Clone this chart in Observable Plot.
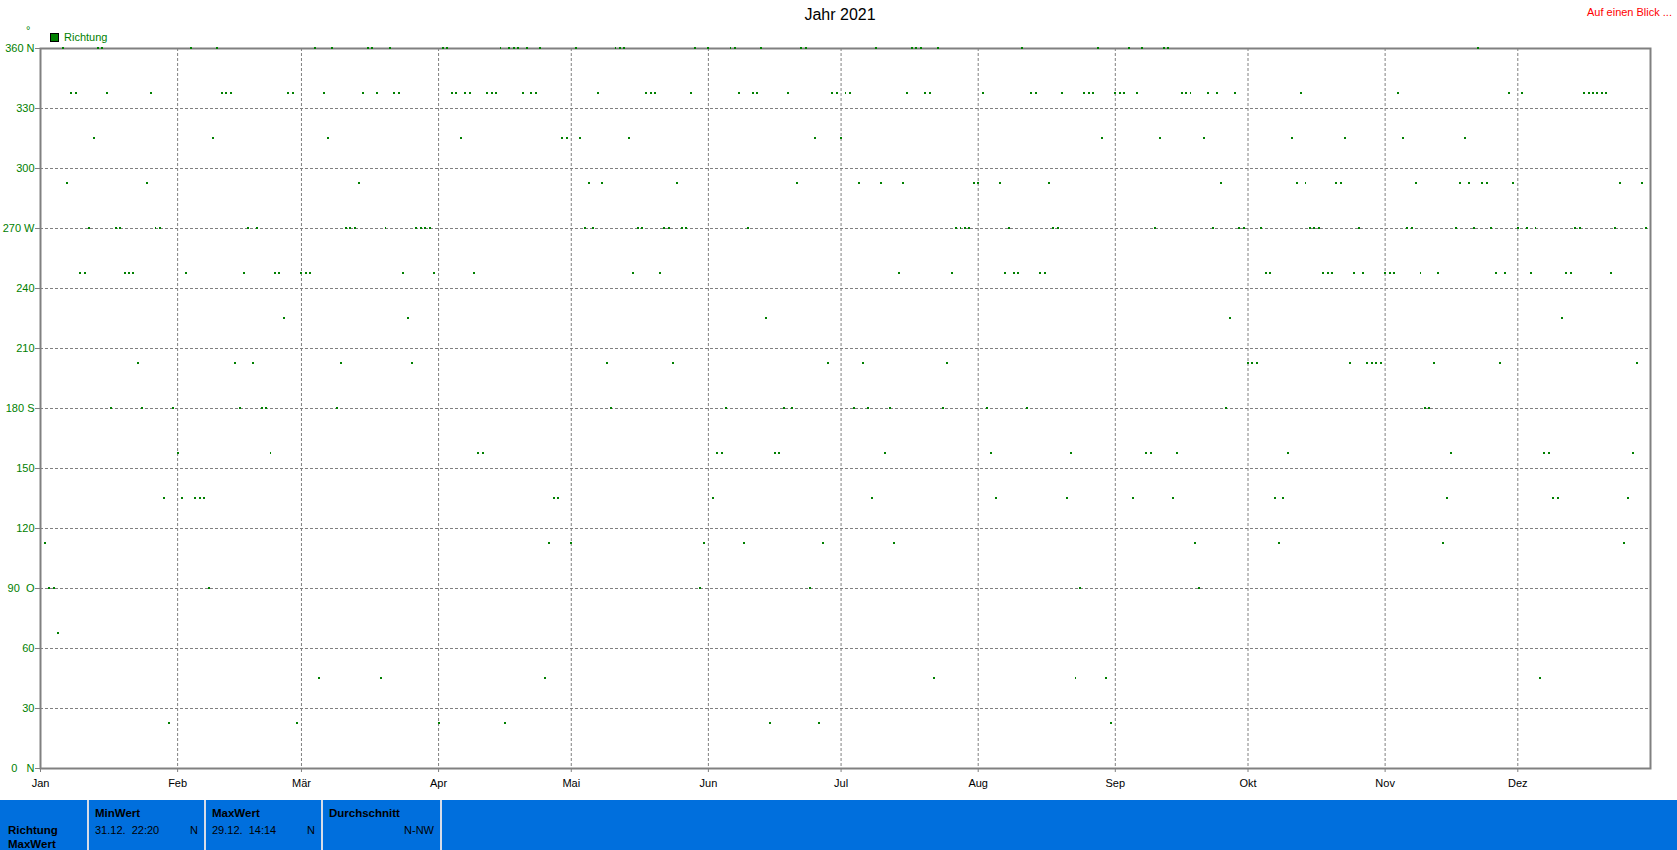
<!DOCTYPE html>
<html>
<head>
<meta charset="utf-8">
<script src="https://cdn.jsdelivr.net/npm/d3@7"></script>
<script src="https://cdn.jsdelivr.net/npm/@observablehq/plot@0.6"></script>
<style>
  body { margin: 0; background: #fff; }
  #wrap { position: relative; width: 1677px; height: 850px; overflow: hidden; font-family: "Liberation Sans", Arial, sans-serif; }
  #chart { position: absolute; left: 0; top: 0; }
  .ov { position: absolute; white-space: pre; z-index: 2; }
  #title { left: 0; width: 1680px; top: 5px; text-align: center; font-size: 16px; line-height: 20px; color: #000; }
  #glance { right: 5px; top: 6px; font-size: 11px; line-height: 13px; color: #ff0000; }
  #deg { left: 26px; top: 24px; font-size: 11px; line-height: 13px; color: #008000; }
  #legsq { left: 50px; top: 33px; width: 9px; height: 9px; box-sizing: border-box; border: 1px solid #000; background: #008000; }
  #legtx { left: 64px; top: 31px; font-size: 11px; line-height: 13px; color: #008000; }
  #footer { position: absolute; left: 0; top: 800px; width: 1677px; height: 50px; background: #006fdd; z-index: 1; }
  .sep { position: absolute; top: 0; width: 2px; height: 50px; background: #d8dde8; }
  .ft { position: absolute; white-space: pre; font-size: 11px; line-height: 13px; color: #000; }
  .b { font-weight: bold; font-size: 11.5px; }
</style>
</head>
<body>
<div id="wrap">
  <div id="chart"></div>
  <div class="ov" id="title"></div>
  <div class="ov" id="glance"></div>
  <div class="ov" id="deg"></div>
  <div class="ov" id="legsq"></div>
  <div class="ov" id="legtx"></div>
  <div id="footer"></div>
</div>
<script>
// ---- texts ----
const titleText = "Jahr 2021";
const glanceText = "Auf einen Blick ...";
const unitText = "°";
const seriesName = "Richtung";
const monthLabels = ["Jan","Feb","Mär","Apr","Mai","Jun","Jul","Aug","Sep","Okt","Nov","Dez"];
const yTickValues = [0,30,60,90,120,150,180,210,240,270,300,330,360];
const yTickLabels = ["0\u00a0\u00a0\u00a0N","30","60","90\u00a0\u00a0O","120","150","180\u00a0S","210","240","270\u00a0W","300","330","360\u00a0N"];

// ---- data: day-of-year index (0 = 1 Jan 2021) per wind direction (degrees) ----
const days360 = [5,13,14,34,40,62,66,74,75,79,91,92,104,106,107,108,110,113,121,130,131,132,148,151,156,157,163,172,173,189,197,198,199,203,222,239,246,249,254,255,325];
const days337 = [7,8,15,25,41,42,43,56,57,64,73,76,80,81,93,94,96,97,101,102,103,109,111,112,126,137,138,139,147,158,161,162,169,179,180,182,183,196,200,201,213,224,225,231,236,237,238,243,244,245,248,258,259,260,264,266,270,285,307,332,335,349,350,351,352,353,354];
const days315 = [12,39,65,95,118,119,122,133,175,181,240,253,263,283,295,308,322];
const days292 = [6,24,72,124,127,144,171,185,190,195,211,212,217,228,267,284,286,293,294,311,321,323,326,327,333,357,362];
const days270 = [11,17,18,26,27,47,49,69,70,71,78,85,86,87,88,123,125,135,136,141,142,145,146,160,207,208,209,210,219,229,230,252,265,271,272,276,287,288,289,298,309,310,320,324,328,334,336,338,347,348,356,363];
const days247 = [9,10,19,20,21,33,46,53,54,59,60,61,82,89,98,134,140,194,206,218,220,221,226,227,277,278,290,291,292,297,299,304,305,306,312,316,329,331,337,345,346,355];
const days225 = [55,83,164,269,344];
const days202 = [22,44,48,68,84,128,143,178,186,205,273,274,275,296,300,301,302,303,315,330,361];
const days180 = [16,23,30,45,50,51,67,129,155,168,170,184,187,192,204,214,223,268,313,314];
const days157 = [31,52,99,100,153,154,166,167,191,215,233,250,251,257,282,319,340,341,360];
const days135 = [28,32,35,36,37,116,117,152,188,216,232,247,256,279,281,318,342,343,359];
const days112 = [1,115,120,150,159,177,193,261,280,317,358];
const days90 = [2,3,38,149,174,235,262];
const days67 = [4];
const days45 = [63,77,114,202,234,241,339];
const days22 = [29,58,90,105,165,176,242];

const directionGroups = [
  [360, days360], [337.5, days337], [315, days315], [292.5, days292],
  [270, days270], [247.5, days247], [225, days225], [202.5, days202],
  [180, days180], [157.5, days157], [135, days135], [112.5, days112],
  [90, days90], [67.5, days67], [45, days45], [22.5, days22]
];

// footer texts
const footerRowLabels = ["Richtung", "MaxWert"];
const footerPanels = [
  {head: "MinWert", when: "31.12.  22:20", val: "N"},
  {head: "MaxWert", when: "29.12.  14:14", val: "N"},
  {head: "Durchschnitt", when: "", val: "N-NW"}
];

// ---- build ----
const year = 2021;
const rows = [];
for (const [dir, ds] of directionGroups) for (const d of ds) rows.push({date: new Date(Date.UTC(year, 0, 1 + d)), dir});
const monthStarts = monthLabels.map((_, i) => new Date(Date.UTC(year, i, 1)));

const green = "#008000", gray = "#808080";
const chart = Plot.plot({
  width: 1677, height: 800,
  marginLeft: 40, marginRight: 27, marginTop: 48, marginBottom: 32,
  style: {fontFamily: "'Liberation Sans', Arial, sans-serif", fontSize: "11px", background: "transparent", overflow: "visible"},
  x: {type: "utc", domain: [new Date(Date.UTC(year, 0, 1)), new Date(Date.UTC(year, 11, 31))]},
  y: {domain: [0, 360]},
  marks: [
    Plot.gridY(yTickValues.filter(v => v > 0 && v < 360), {stroke: gray, strokeOpacity: 1, strokeDasharray: "3,2"}),
    Plot.gridX(monthStarts.slice(1), {stroke: gray, strokeOpacity: 1, strokeDasharray: "3,2"}),
    Plot.frame({stroke: gray, strokeWidth: 2}),
    Plot.axisY(yTickValues, {anchor: "left", tickSize: 5, tickPadding: 1, stroke: gray, fill: green,
      tickFormat: v => yTickLabels[yTickValues.indexOf(v)], label: null}),
    Plot.axisX(monthStarts, {anchor: "bottom", tickSize: 4, tickPadding: 7, stroke: gray, fill: "#000",
      tickFormat: d => monthLabels[d.getUTCMonth()], label: null}),
    Plot.dot(rows, {x: "date", y: "dir", symbol: "square", r: 1.125, dy: -0.5, fill: green, stroke: null, shapeRendering: "crispEdges"})
  ]
});
document.getElementById("chart").appendChild(chart);

document.getElementById("title").textContent = titleText;
document.getElementById("glance").textContent = glanceText;
document.getElementById("deg").textContent = unitText;
document.getElementById("legtx").textContent = seriesName;

// footer
const footer = document.getElementById("footer");
function addText(txt, left, baseline, cls, rightEdge) {
  const s = document.createElement("div");
  s.className = "ft " + (cls || "");
  s.textContent = txt;
  s.style.top = (baseline - 10.5) + "px";
  if (rightEdge != null) { s.style.right = (1677 - rightEdge) + "px"; } else { s.style.left = left + "px"; }
  footer.appendChild(s);
}
const sepX = [87, 204, 321, 440];
for (const x of sepX) { const s = document.createElement("div"); s.className = "sep"; s.style.left = x + "px"; footer.appendChild(s); }
addText(footerRowLabels[0], 8, 34, "b");
addText(footerRowLabels[1], 8, 48, "b");
footerPanels.forEach((p, i) => {
  const left = sepX[i] + 8, right = sepX[i + 1] - 6;
  addText(p.head, left, 17, "b");
  if (p.when) addText(p.when, left, 34, "");
  addText(p.val, null, 34, "", right);
});
</script>
</body>
</html>
